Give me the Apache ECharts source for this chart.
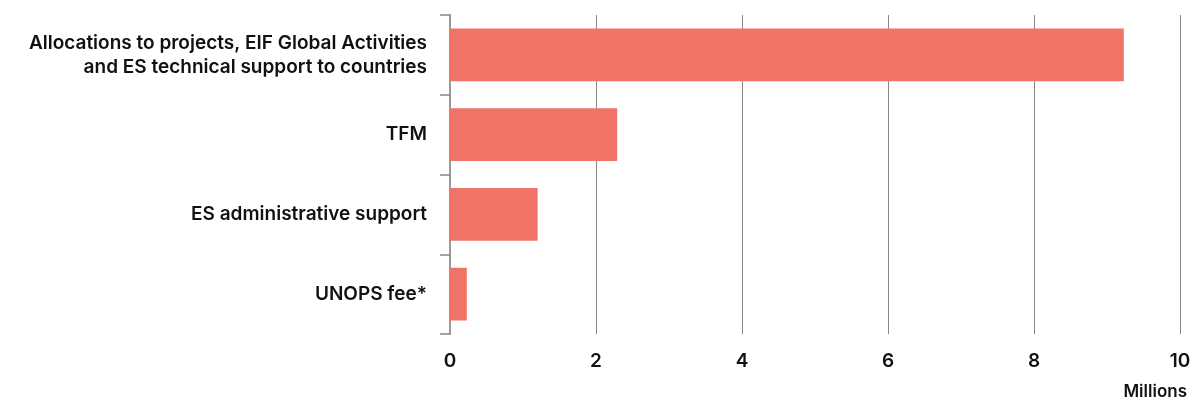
<!DOCTYPE html>
<html>
<head>
<meta charset="utf-8">
<script src="https://cdn.jsdelivr.net/npm/echarts@6/dist/echarts.min.js"></script>
<style>
  html, body { margin: 0; padding: 0; background: #fff; }
  #chart { width: 1195px; height: 402px; }
</style>
</head>
<body>
<div id="chart"></div>
<script>
// spending by category, in millions
var categories = [
  'Allocations to projects, EIF Global Activities\nand ES technical support to countries',
  'TFM',
  'ES administrative support',
  'UNOPS fee*'
];
var values = [9.23, 2.29, 1.2, 0.23];
var barColor = '#ef7366';

var chart = echarts.init(document.getElementById('chart'));

var option = {
  animation: false,
  textStyle: { fontFamily: 'Inter' },
  title: {
    text: 'Millions',
    right: 3,
    bottom: -3,
    textStyle: { fontFamily: 'Inter', fontSize: 17, fontWeight: 600, color: '#111' }
  },
  grid: {
    left: 450,
    right: 15,
    top: 15,
    bottom: 68
  },
  xAxis: {
    type: 'value',
    min: 0,
    max: 10,
    interval: 2,
    axisLine: { show: false },
    axisTick: { show: false },
    axisLabel: {
      margin: 18,
      fontSize: 19,
      fontWeight: 600,
      color: '#111'
    },
    splitLine: { lineStyle: { color: '#888', width: 1 } }
  },
  yAxis: {
    type: 'category',
    inverse: true,
    data: categories,
    axisLine: { show: true, lineStyle: { color: '#999', width: 2 } },
    axisTick: { show: true, alignWithLabel: false, length: 10, lineStyle: { color: '#888', width: 1.5 } },
    axisLabel: {
      margin: 23,
      fontSize: 19,
      fontWeight: 600,
      color: '#111',
      lineHeight: 24,
      align: 'right'
    }
  },
  series: [
    {
      type: 'bar',
      data: values,
      barWidth: '66%',
      itemStyle: { color: barColor }
    }
  ]
};

chart.setOption(option);
window.addEventListener('resize', function () {
  chart.resize();
});
</script>
</body>
</html>
